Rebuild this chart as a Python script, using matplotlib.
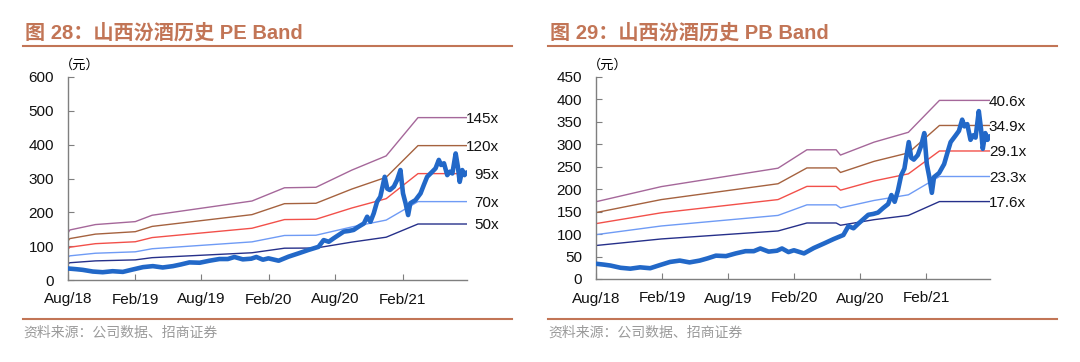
import matplotlib
matplotlib.use("Agg")
import matplotlib.pyplot as plt
import matplotlib.dates as mdates
import numpy as np
import pandas as pd

plt.rcParams['font.family'] = ['Liberation Sans', 'Noto Sans CJK SC', 'DejaVu Sans']

start = pd.Timestamp("2018-08-01")
end = pd.Timestamp("2021-07-27")

# share price (元), same series in both panels; x = days since 2018-08-01
price_days = [0, 22, 40, 68, 95, 122, 150, 177, 205, 232, 259, 287, 309, 332, 360, 387, 414, 437,
              455, 478, 501, 515, 533, 548, 576, 603, 631, 658, 685, 699, 713, 726, 740, 754, 768,
              781, 795, 809, 818, 827, 836, 845, 854, 866, 873, 880, 891, 900, 909, 916, 923, 930,
              936, 950, 964, 973, 982, 996, 1005, 1014, 1020, 1028, 1037, 1044, 1051, 1060, 1066,
              1071, 1078, 1084, 1090]
price = [34, 32, 30, 25, 23, 26, 24, 31, 38, 41, 37, 41, 46, 52, 51, 57, 62, 62,
         68, 61, 63, 68, 60, 64, 57, 69, 79, 89, 98, 118, 113, 123, 133, 143, 145,
         148, 158, 167, 187, 172, 197, 231, 246, 305, 270, 266, 276, 296, 325, 256, 227, 192,
         227, 236, 256, 281, 305, 320, 330, 355, 340, 345, 310, 320, 315, 374, 335,
         290, 325, 310, 318]

# earnings per share used for the PE band
eps_dates = ["2018-08-01", "2018-08-06", "2018-10-15", "2019-02-01", "2019-03-19", "2019-12-17",
             "2020-03-15", "2020-06-09", "2020-09-15", "2020-12-18", "2021-03-15", "2021-07-27"]
eps = [0.96, 1.02, 1.13, 1.19, 1.32, 1.61, 1.88, 1.89, 2.24, 2.53, 3.31, 3.31]
pe_multiples = [145, 120, 95, 70, 50]
pe_labels = ["145x", "120x", "95x", "70x", "50x"]

# book value per share used for the PB band
bvps_dates = ["2018-08-01", "2019-01-29", "2019-12-18", "2020-03-07", "2020-05-27", "2020-06-08",
              "2020-09-09", "2020-12-13", "2021-03-09", "2021-07-27"]
bvps = [4.24, 5.07, 6.08, 7.09, 7.09, 6.80, 7.51, 8.05, 9.80, 9.80]
pb_multiples = [40.6, 34.9, 29.1, 23.3, 17.6]
pb_labels = ["40.6x", "34.9x", "29.1x", "23.3x", "17.6x"]

band_colors = ["#A5679A", "#A5623F", "#F2504A", "#6F9BF5", "#26308A"]
price_color = "#2268C8"
accent = "#C27556"

W, H = 1080, 362
fig = plt.figure(figsize=(W / 100, H / 100), dpi=100)


def px_axes(x0, y_top, x1, y_bot):
    return fig.add_axes([x0 / W, 1 - y_bot / H, (x1 - x0) / W, (y_bot - y_top) / H])


def draw_panel(ax, base_dates, base_vals, mults, labels, ymax, ystep, label_x):
    bd = pd.to_datetime(base_dates)
    for m, lab, c in zip(mults, labels, band_colors):
        vals = np.array(base_vals) * m
        ax.plot(bd, vals, color=c, lw=1.0, zorder=2)
        ax.annotate(lab, xy=(1, vals[-1]), xycoords=("axes fraction", "data"),
                    xytext=(label_x, -1), textcoords="offset points",
                    ha="right", va="center", fontsize=11, color="#111111",
                    annotation_clip=False)
    pdates = start + pd.to_timedelta(price_days, unit="D")
    ax.plot(pdates, price, color=price_color, lw=3.3, zorder=3,
            solid_joinstyle="round", solid_capstyle="round")
    ax.set_xlim(start, end)
    ax.set_ylim(0, ymax)
    ax.set_yticks(np.arange(0, ymax + 1, ystep))
    ax.xaxis.set_major_locator(mdates.MonthLocator(bymonth=[2, 8], bymonthday=1))
    ax.xaxis.set_major_formatter(mdates.DateFormatter("%b/%y"))
    for s in ["top", "right"]:
        ax.spines[s].set_visible(False)
    for s in ["left", "bottom"]:
        ax.spines[s].set_color("#7f7f7f")
        ax.spines[s].set_linewidth(1.0)
    ax.tick_params(axis="both", direction="in", length=4, color="#7f7f7f",
                   labelsize=11, labelcolor="#111111")
    ax.tick_params(axis="y", pad=10)
    ax.tick_params(axis="x", pad=9)
    ax.text(-0.02, 1.06, "（元）", transform=ax.transAxes, fontsize=9.5,
            family=["Noto Sans CJK SC"], ha="left", va="center")


ax1 = px_axes(68, 77, 467, 280)
draw_panel(ax1, eps_dates, eps, pe_multiples, pe_labels, 600, 100, 23)

ax2 = px_axes(596, 77, 990, 279)
draw_panel(ax2, bvps_dates, bvps, pb_multiples, pb_labels, 450, 50, 26)

# titles, rules and source notes
for x0, x1, title in [(23, 512, "图 28：山西汾酒历史 PE Band"), (548, 1057, "图 29：山西汾酒历史 PB Band")]:
    fig.text((x0 + 2) / W, 1 - 33 / H, title, fontsize=14.5, fontweight="bold", color=accent,
             family=["Liberation Sans", "Noto Sans CJK SC"], ha="left", va="center")
    fig.add_artist(plt.Line2D([x0 / W, x1 / W], [1 - 46 / H, 1 - 46 / H], color=accent, lw=1.5))
    fig.add_artist(plt.Line2D([x0 / W, x1 / W], [1 - 319 / H, 1 - 319 / H], color=accent, lw=1.5))
    fig.text(x0 / W, 1 - 333 / H, "资料来源：公司数据、招商证券", fontsize=10, color="#9a9a9a",
             family=["Noto Sans CJK SC"], ha="left", va="center")

fig.savefig("out.png", dpi=100)
